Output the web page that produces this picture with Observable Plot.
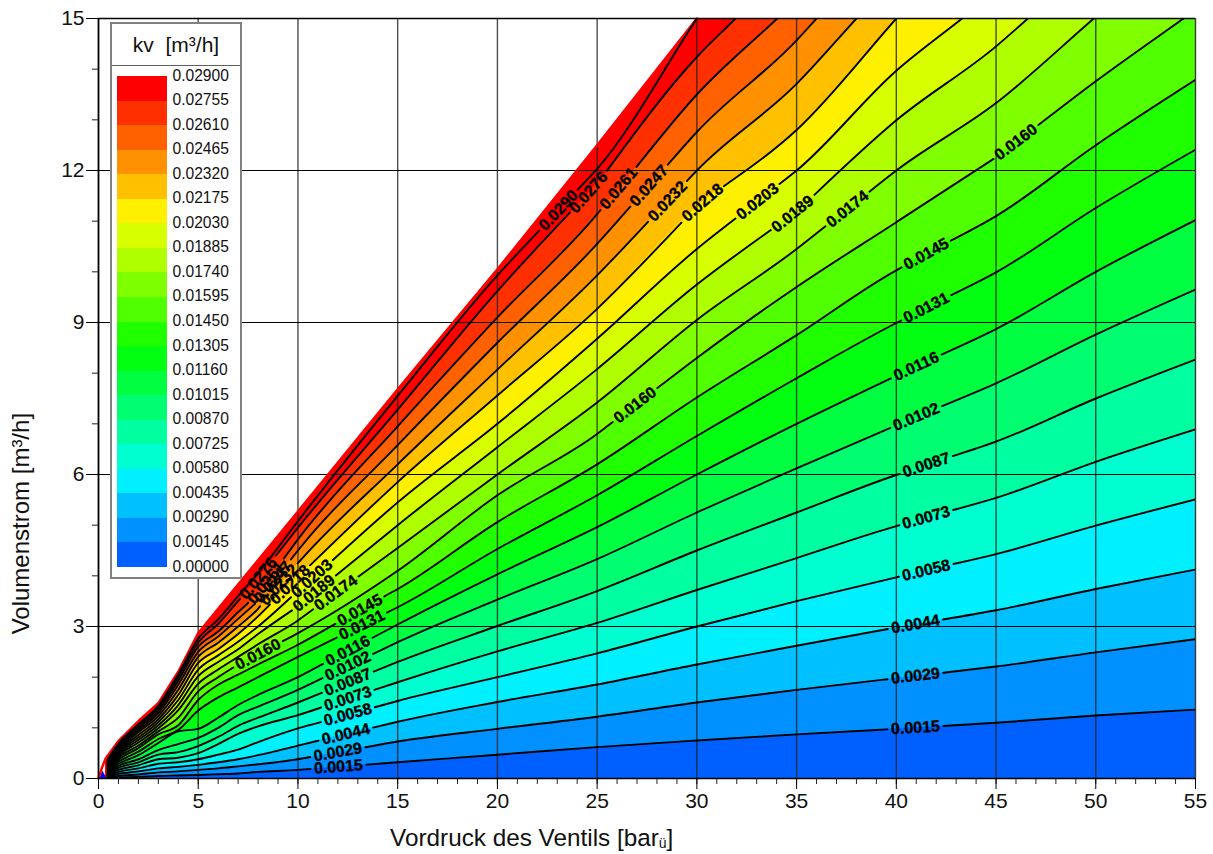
<!DOCTYPE html>
<html>
<head>
<meta charset="utf-8">
<script src="https://cdn.jsdelivr.net/npm/d3@7"></script>
<script src="https://cdn.jsdelivr.net/npm/@observablehq/plot@0.6"></script>
<style>
html,body{margin:0;padding:0;background:#fff}
#wrap{position:relative;width:1213px;height:854px;font-family:"Liberation Sans",Arial,sans-serif;overflow:hidden}
#legend{position:absolute;left:110px;top:22px;width:128px;height:553px;background:#fff;border:2px solid #808080;color:#111}
#legend .t{height:41px;line-height:41px;text-align:center;font-size:21px;border-bottom:1px solid #606060;white-space:pre}
#legend .s{position:absolute;left:5px;width:50px}
#legend .l{position:absolute;left:60.5px;font-size:15.6px;line-height:18px}
</style>
</head>
<body>
<div id="wrap"><div id="chart"></div><div id="legend"></div></div>
<script>
// pressure stations (bar) at which each contour's flow value was read
const stations = [0.45,1,2,3,4,5,6,7,8,10,15,20,25,30,35,40,45,50,55];

// contour lines: flow at each station, until the contour leaves through the top of the chart
const kv0015 = [0,.02,.03,.05,.06,.07,.085,.10,.13,.17,.32,.47,.62,.75,.87,.98,1.10,1.243,1.36];
const kv0029 = [.01,.05,.08,.12,.14,.17,.2,.24,.28,.38,.73,.98,1.22,1.5,1.75,1.98,2.21,2.49,2.75];
const kv0044 = [.03,.09,.14,.2,.23,.27,.32,.38,.46,.65,1.12,1.51,1.855,2.25,2.62,2.98,3.32,3.74,4.125];
const kv0058 = [.05,.13,.2,.29,.32,.38,.47,.57,.72,.99,1.53,2.0,2.47,3.0,3.5,3.97,4.43,4.99,5.51];
const kv0073 = [.07,.17,.26,.38,.41,.50,.68,.88,1.03,1.25,1.90,2.51,3.07,3.72,4.35,4.98,5.54,6.25,6.89];
const kv0087 = [.09,.21,.32,.47,.52,.64,.82,1.04,1.2,1.5,2.3,3.01,3.7,4.5,5.25,5.99,6.65,7.5,8.27];
const kv0102 = [.11,.25,.38,.56,.68,.80,1.0,1.25,1.42,1.75,2.69,3.53,4.33,5.25,6.12,6.97,7.8,8.76,9.65];
const kv0116 = [.13,.29,.46,.70,.93,.98,1.2,1.45,1.65,2.0,3.04,4.03,4.96,6.0,7.0,7.95,8.87,10,11.02];
const kv0131 = [.15,.33,.53,.78,.96,1.34,1.6,1.8,2.0,2.4,3.38,4.53,5.59,6.76,7.9,8.99,9.99,11.26,12.41];
const kv0145 = [.17,.37,.6,.87,1.05,1.55,1.85,2.05,2.25,2.64,3.74,5.06,6.2,7.52,8.75,10.03,11.1,12.5,13.79];
const kv0160 = [.19,.41,.65,.93,1.2,1.72,2.0,2.25,2.45,2.87,4.1,5.59,6.8,8.3,9.7,10.98,12.26,13.76];
const kv0174 = [.21,.45,.71,.99,1.35,1.87,2.15,2.4,2.65,3.12,4.55,6.0,7.42,9.05,10.45,12,13.33];
const kv0189 = [.23,.48,.76,1.05,1.45,2.02,2.3,2.55,2.85,3.4,5.0,6.54,8.08,9.75,11.2,12.99,14.45];
const kv0203 = [.25,.51,.81,1.11,1.55,2.15,2.43,2.7,3.0,3.7,5.45,7.0,8.68,10.45,12.0,13.97];
const kv0218 = [.27,.54,.86,1.17,1.65,2.28,2.55,2.85,3.2,3.98,5.85,7.56,9.27,11.28,12.8];
const kv0232 = [.29,.57,.91,1.23,1.75,2.4,2.68,3.0,3.35,4.25,6.2,8.07,9.93,12,13.71];
const kv0247 = [.31,.60,.95,1.29,1.85,2.5,2.8,3.15,3.5,4.5,6.58,8.6,10.55,12.76,14.57];
const kv0261 = [.33,.63,.99,1.34,1.93,2.6,2.9,3.28,3.65,4.72,6.95,9.1,11.14,13.5];
const kv0276 = [.35,.66,1.03,1.39,2.0,2.68,3.05,3.5,3.95,4.95,7.28,9.62,11.75,14.24];
const kv0290 = [.37,.69,1.07,1.44,2.06,2.76,3.14,3.6,4.05,5.08,7.55,9.93,12.03];

const contourValues = [kv0015,kv0029,kv0044,kv0058,kv0073,kv0087,kv0102,kv0116,kv0131,kv0145,kv0160,kv0174,kv0189,kv0203,kv0218,kv0232,kv0247,kv0261,kv0276,kv0290];
const contourNames = ["0.0015","0.0029","0.0044","0.0058","0.0073","0.0087","0.0102","0.0116","0.0131","0.0145","0.0160","0.0174","0.0189","0.0203","0.0218","0.0232","0.0247","0.0261","0.0276","0.0290"];
// pressure where a contour meets the top edge (15 m³/h)
const topCrossing = [null,null,null,null,null,null,null,null,null,null,54.4,49.9,46.6,43.3,40,38,36,34.03,31.94,30];
// pressures at which each contour carries its labels
const labelPressures = [[12.03,40.96],[12,40.96],[12.4,40.96],[12.5,41.5],[12.5,41.5],[12.5,41.5],[12.5,41],[12.5,41],[13.2,41.5],[13.1,41.5],[8,26.9,46],[11.9,37.55],[10.8,34.8],[10.7,33.04],[9.6,30.29],[9.05,28.53],[8.75,27.6],[8.4,26.07],[8,24.57],[23.06]];

// operating limit of the valve (upper left edge of the data)
const limitP = [0,.18,.35,1.02,2.02,3.01,4.03,5,10,15,20,25,30];
const limitQ = [0,.22,.39,.75,1.14,1.49,2.13,2.87,5.27,7.68,10.05,12.5,15];

const originP = [.08,.22,.42];
const originQ = [0,.15,0];

// one colour per band, from the lowest up
const bandColors = ["#0060ff","#0090ff","#00c0ff","#00f0ff","#00ffd0","#00ffa0","#00ff70","#00ff40","#00ff10","#20ff00","#50ff00","#80ff00","#b0ff00","#d8ff00","#fff000","#ffc000","#ff9000","#ff6000","#ff3000","#ff0000"];
const legendLabels = ["0.02900","0.02755","0.02610","0.02465","0.02320","0.02175","0.02030","0.01885","0.01740","0.01595","0.01450","0.01305","0.01160","0.01015","0.00870","0.00725","0.00580","0.00435","0.00290","0.00145","0.00000"];

const xMajor = [0,5,10,15,20,25,30,35,40,45,50,55];
const xMinor = d3.range(0,56);
const yMajor = [0,3,6,9,12,15];
const yMinor = d3.range(0,16);
const xTitle = "Vordruck des Ventils [barü]";
const yTitle = "Volumenstrom [m³/h]";
const legendTitle = "kv  [m³/h]";

const W=1213,H=854,mL=98,mR=18,mT=18,mB=76;
const pxX=(W-mL-mR)/55, pxY=(H-mT-mB)/15;

// a contour that leaves through the top keeps its direction above the clipped frame
const contours = contourValues.map((ys,i)=>{
  const pts = ys.map((y,j)=>({x:stations[j],y}));
  if(topCrossing[i]!=null) pts.push({x:topCrossing[i],y:15});
  return pts;
});
const yAt=(pts,x)=>{
  for(let j=1;j<pts.length;j++) if(x<=pts[j].x){
    const a=pts[j-1],b=pts[j];return a.y+(b.y-a.y)*(x-a.x)/(b.x-a.x);
  }
  return pts[pts.length-1].y;
};
const beyond=pts=>{
  const n=pts.length;
  if(pts[n-1].x>=55) return [];
  const a=pts[n-2],b=pts[n-1],s=(b.y-a.y)/(b.x-a.x);
  return [{x:b.x+1,y:b.y+s}];
};
const labels=[], segments=[];
contours.forEach((pts,i)=>{
  const gaps=[];
  labelPressures[i].forEach(x=>{
    const span=1.2;
    const x0=Math.max(pts[0].x,x-span),x1=Math.min(pts[pts.length-1].x,x+span);
    const dy=(yAt(pts,x1)-yAt(pts,x0))*pxY, dx=(x1-x0)*pxX;
    const ang=Math.atan2(dy,dx);
    labels.push({x,y:yAt(pts,x),t:contourNames[i],r:-ang*180/Math.PI});
    const half=28*Math.cos(ang)/pxX;
    gaps.push([x-half,x+half]);
  });
  const ext=beyond(pts);
  const full=[...pts,...ext];
  const xs=[...full.map(p=>p.x),...gaps.flat().filter(x=>x>pts[0].x&&x<full[full.length-1].x)].sort((a,b)=>a-b);
  let seg=0, prev=null;
  xs.forEach(x=>{
    const inGap=prev!=null&&gaps.some(g=>(prev+x)/2>g[0]&&(prev+x)/2<g[1]);
    if(inGap) seg++;
    else if(prev!=null&&gaps.some(g=>Math.abs(g[1]-prev)<1e-9)) segments.push({x:prev,y:yAt(full,prev),s:`${i}-${seg}`});
    if(!inGap) segments.push({x,y:yAt(full,x),s:`${i}-${seg}`});
    prev=x;
  });
});

const limit = limitP.map((x,i)=>({x,y:limitQ[i]}));
const origin = originP.map((x,i)=>({x,y:originQ[i]}));
const curve="monotone-x";
const bands=[];
// paint from the top band downwards
bands.push(Plot.area([...limit.filter(d=>d.x>=.35),{x:55,y:15}],{x1:"x",y1:()=>0,y2:"y",fill:bandColors[19]}));
for(let i=19;i>=0;i--){
  const pts=contours[i];
  const ext=beyond(pts);
  const d=ext.length?[...pts,...ext,{x:55,y:40}]:pts;
  bands.push(Plot.area(d,{x1:"x",y1:()=>0,y2:"y",fill:bandColors[i],curve,clip:true}));
}

const font='"Liberation Sans",Arial,sans-serif';
const chart = Plot.plot({
  width:W,height:H,marginLeft:mL,marginRight:mR,marginTop:mT,marginBottom:mB,
  style:{fontFamily:font,background:"#fff",overflow:"visible"},
  x:{domain:[0,55],label:null},
  y:{domain:[0,15],label:null},
  marks:[
    ...bands,
    Plot.area(origin,{x1:"x",y1:()=>0,y2:"y",fill:"#0000ff"}),
    Plot.gridX(xMajor,{stroke:"#222",strokeOpacity:.8,strokeWidth:1.4}),
    Plot.gridY(yMajor,{stroke:"#000",strokeOpacity:1,strokeWidth:1.2}),
    Plot.line(limit,{x:"x",y:"y",stroke:"#ff0000",strokeWidth:2.4}),
    Plot.line(segments,{x:"x",y:"y",z:"s",stroke:"#000",strokeWidth:1.9,curve,clip:true}),
    Plot.text(labels,{x:"x",y:"y",text:"t",rotate:"r",fontSize:16,fontWeight:"bold",fill:"#000",stroke:"#000",strokeWidth:.35}),
    Plot.ruleY([0,15],{stroke:"#000",strokeWidth:1.4}),
    Plot.ruleX([0],{stroke:"#000",strokeWidth:1.6}),
    Plot.ruleX([55],{stroke:"#333",strokeWidth:.8}),
    Plot.axisX({ticks:xMinor,tickSize:6,tickFormat:()=>"",label:null,stroke:"#222"}),
    Plot.axisX({ticks:xMajor,tickSize:11,tickPadding:4,fontSize:21,tickFormat:d=>String(d),label:null,stroke:"#000",fill:"#111"}),
    Plot.axisY({ticks:yMinor,tickSize:6,tickFormat:()=>"",label:null,stroke:"#222"}),
    Plot.axisY({ticks:yMajor,tickSize:12,tickPadding:2,fontSize:21,tickFormat:d=>String(d),label:null,stroke:"#000",fill:"#111"}),
    Plot.text([xTitle],{x:()=>21.72,y:()=>-1.18,text:d=>d,fontSize:24.3,fill:"#111"}),
    Plot.text([yTitle],{x:()=>-3.85,y:()=>5.03,text:d=>d,rotate:-90,fontSize:24,fill:"#111"})
  ]
});
document.getElementById("chart").appendChild(chart);

// small subscript in the x title
d3.select(chart).selectAll("text").filter(function(){return this.textContent===xTitle;}).each(function(){
  const t=d3.select(this);t.text("");
  t.append("tspan").text("Vordruck des Ventils [bar");
  t.append("tspan").attr("font-size",14).attr("dy",2).text("ü");
  t.append("tspan").attr("dy",-2).text("]");
});

// legend
const lg=d3.select("#legend");
lg.append("div").attr("class","t").text(legendTitle);
const top0=52, row=24.55;
bandColors.slice().reverse().forEach((c,i)=>{
  lg.append("div").attr("class","s").style("top",(top0+i*row)+"px").style("height",(row+.5)+"px").style("background",c);
});
legendLabels.forEach((t,i)=>{
  lg.append("div").attr("class","l").style("top",(top0-9.5+i*row)+"px").text(t);
});
</script>
</body>
</html>
